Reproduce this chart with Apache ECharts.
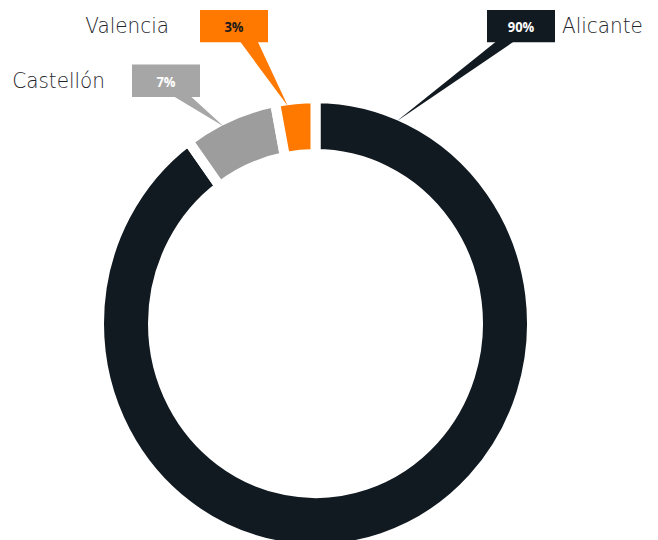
<!DOCTYPE html>
<html>
<head>
<meta charset="utf-8">
<script src="https://cdn.jsdelivr.net/npm/echarts@6/dist/echarts.min.js"></script>
<style>
html,body{margin:0;padding:0;background:#fff;overflow:hidden}
#c{width:658px;height:540px;transform:scaleY(1.042);transform-origin:0 0}
</style>
</head>
<body>
<div id="c"></div>
<script>
var categories = ['Alicante', 'Castellón', 'Valencia'];
var values = [90, 7, 3];
var pctLabels = ['90%', '7%', '3%'];

var sliceColors = ['#121a21', '#9d9d9d', '#ff7800'];
var boxColors = ['#121a21', '#a6a6a6', '#ff7800'];
var boxTextColors = ['#ffffff', '#ffffff', '#1a1a1a'];
// label anchors (layout only, pre-stretch coordinates)
var labelPos = [
  {x: 487, y: 25, align: 'left', gap: 7},
  {x: 200, y: 77.5, align: 'right', gap: 27},
  {x: 268, y: 25, align: 'right', gap: 31}
];
var tipFrac = [0.07, 0.4, 0.3];
var BOXW = 68, BOXH = 29;
var NAME_FONT = '"DejaVu Sans", sans-serif';
var PCT_FONT = '"Open Sans", Lato, sans-serif';

var chart = echarts.init(document.getElementById('c'), null, {renderer: 'svg'});

var data = categories.map(function (name, i) {
  var lp = labelPos[i];
  return {
    name: name,
    value: values[i],
    itemStyle: {color: sliceColors[i]},
    label: {
      formatter: lp.align === 'left'
        ? '{box|' + pctLabels[i] + '}{name|' + name + '}'
        : '{name|' + name + '}{box|' + pctLabels[i] + '}',
      rich: {
        box: {
          width: BOXW, height: BOXH, align: 'center', verticalAlign: 'middle',
          backgroundColor: boxColors[i], color: boxTextColors[i],
          fontSize: 13, fontWeight: 'bold', fontFamily: PCT_FONT, padding: [2, 0, 0, 0]
        },
        name: {
          fontSize: 20, fontWeight: 200, color: '#1f262c', fontFamily: NAME_FONT,
          padding: lp.align === 'left' ? [0, 0, 0, lp.gap] : [0, lp.gap, 0, 0]
        }
      }
    }
  };
});

chart.setOption({
  animation: false,
  series: [{
    type: 'pie',
    center: [315.5, 310.5],
    radius: [162.5, 216.5],
    startAngle: 90,
    clockwise: true,
    avoidLabelOverlap: false,
    silent: true,
    itemStyle: {borderColor: '#ffffff', borderWidth: 10},
    label: {show: true, position: 'outside'},
    labelLine: {show: false},
    labelLayout: function (p) {
      var lp = labelPos[p.dataIndex];
      return {x: lp.x, y: lp.y, align: lp.align, verticalAlign: 'middle', hideOverlap: false};
    },
    emphasis: {disabled: true},
    data: data
  }]
});

// callout wedges from each label box to its slice, using the pie's own layout
var sd = chart.getModel().getSeriesByIndex(0).getData();
var graphics = [];
for (var i = 0; i < values.length; i++) {
  var L = sd.getItemLayout(i);
  var a = L.startAngle + (L.endAngle - L.startAngle) * tipFrac[i];
  var rr = L.r - 6;
  var tx = L.cx + rr * Math.cos(a), ty = L.cy + rr * Math.sin(a);
  var lp = labelPos[i];
  var bx0 = lp.align === 'left' ? lp.x : lp.x - BOXW;
  var bc = bx0 + BOXW / 2;
  var by = lp.y + BOXH / 2 - 1;
  var mc = bc + 14 * (tx > bc ? 1 : -1);
  graphics.push({
    type: 'polygon', silent: true, z: 20,
    shape: {points: [[mc - 9, by], [mc + 9, by], [tx, ty]]},
    style: {fill: boxColors[i]}
  });
}
chart.setOption({graphic: graphics});
</script>
</body>
</html>
